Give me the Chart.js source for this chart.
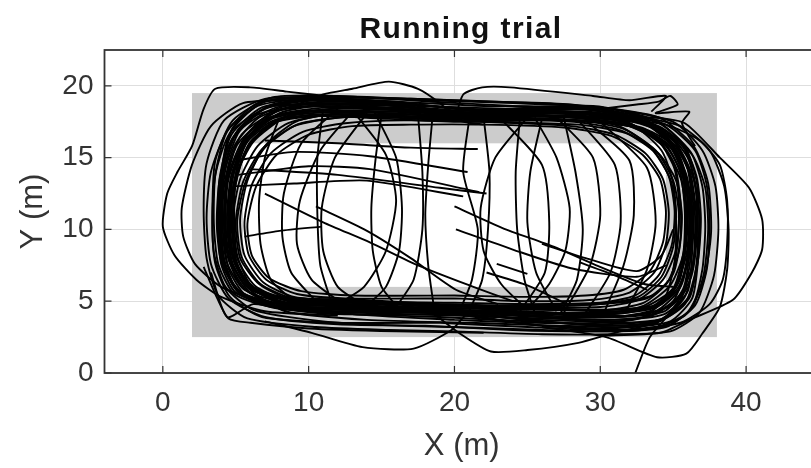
<!DOCTYPE html>
<html>
<head>
<meta charset="utf-8">
<title>Running trial</title>
<script src="https://cdn.jsdelivr.net/npm/chart.js@4.4.1/dist/chart.umd.min.js"></script>
<style>
  html, body { margin: 0; padding: 0; background: #fff; overflow: hidden; }
  #wrap { width: 820px; height: 468px; }
</style>
</head>
<body>
<div id="wrap"><canvas id="trialChart" width="820" height="468"></canvas></div>
<script>
// ================= AXES =================

const xTicks = [0, 10, 20, 30, 40];
const yTicks = [0, 5, 10, 15, 20];
const xRange = [-4, 45];
const yRange = [0, 22.5];

// track area: [xMin, xMax, yMin, yMax] in metres
const trackOuter = [2, 38, 2.5, 19.5];
const trackInner = [5.5, 34.5, 6, 16];

// ================= TRAJECTORY (x, y in metres) =================

// laps on the inside of the track, taking the corners wide
const lapsTight = [
  [[20,4.8],[26,4.6],[30,4.6],[32.6,5.1],[34.3,6.5],[35.2,8.6],[35.4,11],[35,13.4],[33.8,15.5],[31.6,17],[28.5,17.6],[22,17.8],[16,18],[12,17.8],[9,17.2],[6.8,15.6],[5.5,13.3],[5,10.5],[5.3,8],[6.6,6.2],[8.8,5.1],[12,4.8],[20,4.8]],
  [[20,4.4],[26,4.2],[30.5,4.2],[33,4.7],[34.8,6.1],[35.7,8.3],[35.9,11],[35.5,13.6],[34.3,15.8],[32,17.4],[28.8,18.1],[22,18.1],[16,18.5],[11.5,18.4],[8.4,17.8],[6.2,16.1],[5,13.7],[4.5,10.8],[4.8,8],[6,6],[8.3,4.8],[12,4.5],[20,4.4]],
  [[20,5.2],[25,5],[29.5,5.1],[32,5.6],[33.7,7],[34.5,9],[34.7,11.2],[34.3,13.5],[33.1,15.3],[31,16.6],[28,17.2],[22,17.5],[16.5,17.6],[12.5,17.4],[9.6,16.8],[7.4,15.3],[6.1,13.1],[5.6,10.5],[5.9,8.2],[7.1,6.5],[9.2,5.5],[12.5,5.2],[20,5.2]],
  [[20,4.2],[26,3.9],[31,3.9],[33.6,4.4],[35.3,5.9],[36.1,8.1],[36.3,11],[35.9,13.8],[34.7,16.1],[32.4,17.8],[29,18.5],[22,18.3],[16,18.8],[11,18.9],[7.8,18.2],[5.6,16.4],[4.5,13.8],[4.2,10.8],[4.5,7.9],[5.7,5.8],[8,4.6],[12,4.3],[20,4.2]],
  [[20,4.9],[26,4.8],[30,4.9],[32.4,5.4],[34,6.8],[34.9,8.9],[35.1,11.3],[34.7,13.7],[33.5,15.7],[31.3,17.2],[28,17.8],[22,17.6],[16,18.2],[12,18.1],[9.1,17.5],[7,15.8],[5.8,13.4],[5.3,10.7],[5.6,8.2],[6.9,6.3],[9,5.3],[12.5,5],[20,4.9]],
  [[20,4.5],[26,4.4],[30.5,4.4],[33,4.9],[34.6,6.3],[35.4,8.5],[35.6,11],[35.2,13.4],[34,15.3],[31.8,16.7],[28.5,17.3],[22,17.5],[16,17.9],[11.5,18],[8.6,17.4],[6.5,15.8],[5.3,13.5],[4.8,10.7],[5.1,8],[6.3,6.1],[8.6,5],[12,4.7],[20,4.5]],
  [[20,5.4],[25,5.3],[29,5.4],[31.6,5.8],[33.4,7.1],[34.3,9.1],[34.5,11.3],[34.1,13.5],[32.9,15.2],[30.8,16.5],[27.5,17.1],[22,17.3],[17,17.3],[13,17.2],[10,16.6],[7.8,15.2],[6.4,13],[5.8,10.4],[6.1,8.2],[7.3,6.6],[9.5,5.7],[13,5.4],[20,5.4]],
  [[20,4.3],[26,4.1],[31,4.1],[33.5,4.6],[35.1,6],[35.9,8.2],[36.1,11],[35.7,13.6],[34.5,15.8],[32.2,17.3],[29,17.9],[22,17.9],[16,18.3],[11.5,18.4],[8.3,17.8],[6,16.1],[5,13.6],[4.6,10.7],[4.9,7.9],[6.1,5.9],[8.4,4.7],[12,4.4],[20,4.3]],
  [[20,4.7],[25.5,4.7],[30,4.8],[32.6,5.3],[34.2,6.7],[35,8.8],[35.2,11.1],[34.8,13.5],[33.6,15.5],[31.4,16.9],[28.2,17.5],[22,17.7],[16.5,17.9],[12.2,17.8],[9.2,17.3],[7,15.7],[5.7,13.4],[5.1,10.6],[5.4,8.1],[6.7,6.2],[8.9,5.2],[12.5,4.9],[20,4.7]],
  [[20,4.1],[26,3.7],[31,3.6],[33.8,4.1],[35.6,5.6],[36.4,7.9],[36.6,10.8],[36.2,13.7],[35,16],[32.7,17.7],[29.3,18.4],[22,18.2],[16,18.6],[11.3,18.7],[8,18.1],[5.8,16.3],[4.7,13.8],[4.4,10.8],[4.7,7.8],[5.9,5.7],[8.2,4.5],[12,4.1],[20,4.1]]
];

// laps that narrow in around the halfway line at x = 20
const lapsPinched = [
  [[20,4.4],[25,4.3],[30,4.1],[33.6,4.5],[35.2,6],[35.8,8.6],[35.9,11.4],[35.6,14],[34.6,16],[32,17.3],[27,17.9],[20,17.9],[14,18.6],[9.5,18.7],[6.6,17.8],[4.9,15.8],[4.2,13],[4.1,10.3],[4.4,7.7],[5.6,5.8],[8.4,4.9],[14,4.8],[20,4.4]],
  [[20,4.2],[26,3.6],[31,3.3],[34.2,3.7],[35.8,5.3],[36.4,7.9],[36.5,10.9],[36.2,13.8],[35.2,16],[33,17.5],[28.5,18.4],[20.5,17.9],[15,18.9],[10,19.2],[6.5,18.8],[4.4,16.8],[3.6,13.8],[3.5,10.4],[3.8,7.6],[4.9,5.5],[7.5,4.6],[13.5,4.6],[20,4.2]],
  [[20,4.5],[26,4.5],[31,4.4],[34,4.8],[35.4,6.4],[35.9,9],[36,11.8],[35.7,14.3],[34.7,16.3],[32.5,17.6],[27.5,18.2],[20,17.7],[14.5,18],[9.8,18.2],[6.9,17.5],[5.3,15.5],[4.6,12.8],[4.5,10],[4.8,7.6],[6,5.8],[8.8,5.1],[14,4.9],[20,4.5]],
  [[19.5,4.3],[25,3.4],[30,3.1],[33.6,3.4],[35.4,4.8],[36.1,7.3],[36.3,10.2],[36,13.2],[35,15.5],[32.8,17.1],[28,17.8],[20,18.1],[15,18.7],[10.8,19],[7.3,18.6],[5,16.7],[4.1,13.7],[3.9,10.6],[4.1,7.8],[5.2,5.7],[7.8,4.8],[13,4.7],[19.5,4.3]],
  [[20,4.6],[26,4.8],[30.5,4.9],[33.6,5.4],[35,6.9],[35.5,9.4],[35.5,12],[35.1,14.5],[34,16.2],[31.6,17.3],[26.5,17.7],[20.5,17.7],[15,17.9],[10.2,18],[7.3,17.3],[5.6,15.3],[4.9,12.6],[4.8,9.9],[5.1,7.5],[6.3,5.7],[9,5],[14.5,4.9],[20,4.6]],
  [[20,4.3],[25,4.0],[29.5,3.7],[33,3.9],[35,5],[35.9,7.5],[36.2,10.3],[36,13.2],[35.3,15.4],[33.5,17.2],[29,18.2],[21,18.1],[16.5,18.4],[12,18.6],[8,18.3],[5.4,16.6],[4.4,13.8],[4.3,10.9],[4.5,8.1],[5.4,6],[7.6,4.9],[13,4.6],[20,4.3]],
  [[20,4.4],[26,3.9],[31,3.5],[34.4,3.8],[36.1,5.2],[36.6,7.6],[36.7,10.5],[36.5,13.3],[35.7,15.7],[33.5,17.3],[29,18],[21,17.6],[15.5,17.8],[11,18],[7.6,17.6],[5.5,15.9],[4.7,13.1],[4.6,10.2],[4.9,7.7],[6,5.9],[8.6,4.9],[14,4.7],[20,4.4]],
  [[19,4.8],[24,4.6],[29,4.4],[33,4.6],[35,5.9],[35.7,8.4],[35.8,11.2],[35.5,13.9],[34.5,15.9],[32.4,17.1],[28,17.6],[21,17.8],[16,18.3],[11.5,18.5],[8,18],[5.8,16.3],[4.8,13.6],[4.6,10.7],[4.8,8.1],[5.8,6.2],[8.2,5.3],[13.5,5.1],[19,4.8]],
  [[20,4.1],[26,3.3],[31,3],[34.6,3.3],[36.5,4.7],[37.3,7.2],[37.5,10.2],[37.3,13.1],[36.5,15.5],[34.5,17.3],[30,18.5],[21,18.3],[16,18.9],[11,19.1],[7.5,18.7],[5.2,17],[4.2,14.2],[4,11],[4.2,8],[5.1,5.8],[7.6,4.6],[13,4.4],[20,4.1]],
  [[20,4.5],[25.5,4.6],[30,4.8],[33.2,5.2],[34.8,6.6],[35.3,9],[35.4,11.8],[35.1,14.2],[34.1,16],[32,17.2],[27,17.6],[20.5,17.5],[15.5,17.7],[10.8,17.9],[7.8,17.5],[5.9,15.9],[5,13.2],[4.8,10.4],[5,7.9],[6.1,6],[8.7,5.1],[14,5],[20,4.5]],
  [[20,4.2],[26,4.2],[30.5,4.2],[33.8,4.6],[35.5,6],[36.1,8.5],[36.3,11.4],[36,14.2],[35,16.2],[32.8,17.4],[28,17.9],[20,18.2],[14.5,18.8],[10,19],[6.8,18.5],[4.7,16.6],[3.9,13.6],[3.8,10.5],[4,7.6],[5,5.6],[7.7,4.6],[13,4.5],[20,4.2]],
  [[20,4.4],[25,3.7],[30,3.3],[33.8,3.5],[35.8,4.8],[36.6,7.4],[36.8,10.4],[36.6,13.4],[35.8,15.8],[33.8,17.6],[29.5,18.6],[21.5,18.3],[16,18.2],[11,18.3],[7.3,17.8],[5.1,15.9],[4.3,13],[4.2,10],[4.5,7.3],[5.7,5.4],[8.3,4.6],[14,4.6],[20,4.4]],
  [[21,4.6],[27,4.4],[31.5,4.3],[34.2,4.8],[35.4,6.4],[35.8,8.8],[35.9,11.5],[35.6,14.1],[34.8,16.1],[33,17.5],[29,18.2],[20.5,17.9],[15,18.1],[10.5,18.3],[7.6,17.9],[5.6,16.2],[4.5,13.5],[4.3,10.5],[4.6,7.9],[5.7,6.1],[8,5.2],[14,5],[21,4.6]],
  [[20,4.3],[26,4.0],[31,3.9],[34.4,4.3],[35.7,5.9],[36.1,8.2],[36.1,11],[35.8,13.7],[34.9,15.9],[32.9,17.4],[28.5,18.1],[21,18],[16.5,18.6],[11.5,18.8],[7.8,18.5],[5.3,16.9],[4.3,14.2],[4,11],[4.1,8.2],[4.9,6],[7,4.8],[13,4.5],[20,4.3]]
];

// laps run wider, nearer the edge of the track
const lapsWide = [
  [[19,3.9],[25,3.6],[30,3.4],[34,3.7],[36,5.2],[36.7,7.8],[36.9,10.8],[36.6,13.7],[35.6,16],[33,17.6],[28,18.2],[22,18.3],[16,18.8],[10.5,19],[7,18.4],[4.8,16.4],[3.9,13.5],[3.7,10.4],[4,7.8],[5.2,5.6],[8,4.5],[13,4.1],[19,3.9]],
  [[18,3.3],[24,3],[29,2.9],[33,3],[35.8,4],[37.1,6.5],[37.6,9.8],[37.4,13.2],[36.4,15.8],[34,17.8],[29,18.6],[23,18.9],[17,19.1],[11,19.3],[7,18.9],[4.5,17],[3.3,14],[3,10.8],[3.3,7.6],[4.5,5.2],[7,3.9],[12,3.4],[18,3.3]],
  [[20,3.2],[26,3.0],[31,2.9],[34.5,3.2],[36.3,4.6],[37,7.2],[37.2,10.2],[37,13],[36.2,15.4],[34,17.4],[29.5,18.3],[24,18.6],[18.5,18.9],[12,19.3],[7.5,19.2],[4.8,17.6],[3.6,14.8],[3.4,11.5],[3.5,8.4],[4.3,6],[6.2,4.4],[11,3.6],[16,3.3],[20,3.2]],
  [[21,4.2],[27,4.1],[32,4.0],[34.9,4.7],[36.2,6.6],[36.6,9.2],[36.6,12.3],[36.1,14.8],[34.8,16.5],[32.2,17.5],[27,17.9],[21.5,18],[16,18.4],[10,18.6],[6.5,18],[4.6,16],[3.9,13.2],[3.8,10],[4.2,7.3],[5.4,5.6],[7.8,4.9],[14,4.6],[21,4.2]],
  [[20,3.7],[25.5,3.5],[30,3.5],[33,3.9],[34.5,5.4],[35.1,7.8],[35.2,10.6],[35,13.2],[34.2,15.5],[32,17.4],[27.5,18.2],[22.5,18.3],[17,18.7],[11,18.9],[7.8,18.4],[5.7,16.5],[5,13.8],[4.9,10.8],[5.1,8.2],[6,6.2],[8.3,4.8],[13,4.1],[20,3.7]],
  [[20,2.9],[26,2.7],[31,2.7],[34.8,2.9],[36.8,4.2],[37.8,6.8],[38.1,10],[37.9,13],[37,15.5],[35,17.5],[30,18.5],[24,18.8],[18,19],[12,19.2],[7,19.1],[4.2,17.6],[3,14.6],[2.8,11.3],[3,8],[3.8,5.4],[5.8,3.8],[10.5,3.2],[15.5,3],[20,2.9]],
  [[19,4.4],[25,4.2],[30.5,3.9],[33.8,4.3],[35.4,5.8],[36,8.3],[36.1,11],[35.8,13.6],[34.9,15.8],[32.8,17.6],[28,18.5],[22,18.6],[16,18.9],[10,19.1],[6.5,18.6],[4.6,16.7],[4,13.8],[3.9,10.8],[4.1,8],[5,5.9],[7.6,4.7],[13,4.5],[19,4.4]],
  [[21,3.5],[27,3.3],[31.5,3.2],[34.8,3.6],[36.3,5.2],[36.7,7.8],[36.8,10.7],[36.4,13.5],[35.4,15.6],[33,17],[28.5,17.6],[23,17.8],[17.5,18],[12,18.2],[8.2,17.8],[5.8,16.1],[4.9,13.4],[4.7,10.5],[5,7.9],[6,5.8],[8.4,4.3],[14,3.7],[21,3.5]],
  [[19,3.5],[25,3.2],[30,3],[34,3.2],[36.2,4.4],[37.1,6.9],[37.4,10],[37.2,12.9],[36.3,15.2],[34,17.2],[29.2,18.1],[23.5,18.4],[17.5,18.6],[11.5,18.8],[7.2,18.5],[4.6,16.7],[3.6,13.8],[3.4,10.6],[3.6,7.6],[4.6,5.3],[6.8,3.9],[12,3.5],[19,3.5]],
  [[20,4],[26,3.8],[31,3.7],[34.4,4.1],[36,5.7],[36.3,8.4],[36.4,11.2],[36.1,13.9],[35.1,16.1],[32.8,17.8],[28,18.7],[22.5,18.9],[17,19.1],[11,19.2],[7,18.9],[4.8,17.1],[4.1,14],[4,10.8],[4.2,7.8],[5.2,5.6],[7.8,4.5],[13.5,4.2],[20,4]]
];

// short cuts straight across the middle, top side to bottom side
const crossings = [
  [[13,18.2],[10.8,15.5],[9.4,12],[9.2,9],[10.2,6.5],[12.5,4.7]],
  [[14,18.1],[11.8,15],[10.9,11.5],[11,8.5],[12,6],[14,4.6]],
  [[12,18.4],[9.5,16],[8.3,12.5],[8.2,9.5],[8.8,7],[10.5,5]],
  [[15,18],[14.6,15],[14.3,11.5],[14.4,8.5],[15,6],[16,4.7]],
  [[14.5,18.2],[16,15],[16.4,11.5],[16.2,8.5],[15.3,6],[14,4.7]],
  [[13,18.3],[15.3,15.2],[16,12],[15.3,8.5],[13.8,6],[12,4.8]],
  [[18.5,17.9],[18.2,14.5],[18,11],[18.2,7.5],[18.6,4.5]],
  [[8,17.8],[7,15],[6.6,12],[6.7,9],[7.4,6.5],[9,5]],
  [[17.5,18],[17.8,14],[17.8,10],[17.2,6.5],[16,4.6]],
  [[11,18.4],[10.6,15],[10.6,11],[10.8,7.5],[11.6,4.8]],
  [[25,17.8],[22.8,15],[21.8,11.5],[22,8.5],[23.2,6.2],[25,4.4]],
  [[25.5,17.8],[27,15],[27.9,11.5],[27.6,8.5],[26.5,6.2],[25,4.4]],
  [[24.5,17.9],[24.2,14],[24.3,10],[24.8,6.5],[25.5,4.2]],
  [[26,17.7],[25.2,14],[25,10.5],[25.6,7],[27,4.3]],
  [[22,17.8],[22.4,14],[22.3,10],[21.9,6.5],[21,4.3]],
  [[27,17.8],[29.5,15],[30,11],[29.3,7.5],[27.5,4.2]],
  [[28.5,17.6],[31,14.5],[31.4,10.5],[30.7,7],[29,4.2]],
  [[29,17.6],[32,14.8],[32.3,11],[31.6,7.5],[30.3,4.3]],
  [[30,17.5],[33.2,14.3],[33.8,10.5],[33.2,7.2],[31.8,4.4]],
  [[23,17.9],[26,14.5],[26.5,10.5],[26.2,7],[24.5,4.3]],
  [[21,17.6],[20.6,14],[21.6,10],[21.2,6.5],[20.3,4.2]],
  [[27.5,17.8],[28.3,14],[28.8,10],[28.4,6.5],[27.3,4.2]]
];

// slanted pieces through the middle, some cut off where tracking dropped
const diagonals = [
  [[5,14.8],[9,15.4],[14.2,15.1],[20.9,14.0]],
  [[5.2,13.8],[10,14.4],[14.2,14.2],[21.7,12.6]],
  [[4.8,13],[9,13.2],[14,13.4],[20.6,12.3]],
  [[6,14.2],[12,13.8],[19,12.9],[22.2,12.5]],
  [[7,16.2],[12,16],[17,15.7],[21.6,15.6]],
  [[10.5,11.6],[14,9.9],[17,8],[20.1,5.8],[23,4.8]],
  [[20,11.6],[23.3,10.1],[26.8,8.8],[29.5,7.6],[33,6.2],[35,6]],
  [[20.1,10],[24,8.6],[28,7.3],[32.5,6.7],[34.5,7.5]],
  [[22.9,7.6],[25,6.9]],
  [[22.2,7],[25,6.1],[27.7,4.8]],
  [[28.6,7.7],[31,6.8],[33.2,5.8]],
  [[5.6,9.5],[8,9.9],[10.9,10.2]],
  [[7,12.5],[11,10.5],[14.2,9.1],[17.5,7.5],[21.3,6],[24,5]],
  [[26,9],[29,8],[32.5,7.1],[34.2,8.2],[35,10]]
];

// runs that swing outside the marked track
const excursions = [
  [[30,17.6],[33.5,17.8],[35.8,17.4],[38.2,15],[40.2,12.9],[41.1,10.7],[41.1,8.6],[40.4,7],[39.1,5.1],[36.1,3.7],[34.1,2.8],[30,2.6]],
  [[31,17.7],[34.5,17.3],[36.8,16.2],[38.2,14.5],[38.7,12],[38.7,9],[38.4,6.5],[37.5,4.8],[35.5,3.5],[32,3]],
  [[26,3.2],[30.4,2.5],[33.9,1.1],[35.9,1.35],[37,2.75],[38.2,4.6],[38.7,7.2],[38.8,10],[38.5,13],[37.5,15.5],[35.5,17.2],[32,18]],
  [[7,3.6],[10.2,2.8],[13.7,1.8],[17.2,1.7],[19.8,3],[21,4.2],[24,4.6]],
  [[18.5,4.2],[20.3,2.8],[22.5,1.5],[25,1.6],[28.5,2.1],[31,2.8],[34,3.5]],
  [[36,6],[34.8,4.2],[33.4,2.5],[32.4,0],[32.2,-0.5]],
  [[12,19.2],[8.5,19.6],[6,19.9],[3.6,19.8],[2.8,18.4],[2.0,15.8],[1.0,14],[0.3,12.5],[0,10.2],[0.8,8.2],[2.3,6.5],[4,5.3],[7,4.3],[12,4]],
  [[9,19],[5.5,18.8],[3.3,17.2],[2,14.5],[1.3,11.5],[1.4,9.5],[2.2,7.6],[4,6],[6.5,5]],
  [[2.8,7.4],[3.6,5.5],[4.5,3.8],[6,3.5],[10,3.1],[16,2.9],[22,2.8]],
  [[3.3,7],[4.4,3.9],[6.2,4.8],[8.5,4.4]],
  [[9,18.6],[11,19.4],[13,19.8],[15.5,20.3],[17.5,19.8],[19,18.8],[20.3,17.6],[22,17.3]],
  [[20,17.5],[20.6,19.4],[21.9,19.9],[23.8,19.9],[29.5,19.3],[32,19],[34.5,19.3],[33.5,18.2]],
  [[30,18.4],[32.5,18.7],[34,18.9],[34.8,19.3],[35.3,18.7],[33.8,18.1],[36.1,18.2],[35.6,17.4],[36.5,15.8]]
];

// ================= PLUGINS =================

const axisInk = "#333333";

// grey track band, drawn over the grid and under the runner's path
const trackPatch = {
  id: "trackPatch",
  beforeDatasetsDraw(chart){
    const {ctx, scales: {x, y}} = chart;
    const rect = (r, color) => {
      const x0 = x.getPixelForValue(r[0]);
      const x1 = x.getPixelForValue(r[1]);
      const y0 = y.getPixelForValue(r[3]);
      const y1 = y.getPixelForValue(r[2]);
      ctx.fillStyle = color;
      ctx.fillRect(x0, y0, x1 - x0, y1 - y0);
    };
    ctx.save();
    rect(trackOuter, "#cccccc");
    rect(trackInner, "#ffffff");
    ctx.restore();
  }
};

// closed box with inward tick marks
const boxAxes = {
  id: "boxAxes",
  afterDatasetsDraw(chart){
    const {ctx, chartArea: a, scales: {x, y}} = chart;
    const tick = 7;
    ctx.save();
    ctx.strokeStyle = axisInk;
    ctx.lineWidth = 1.8;
    ctx.strokeRect(a.left, a.top, a.right - a.left, a.bottom - a.top);
    ctx.lineWidth = 1.2;
    ctx.beginPath();
    xTicks.forEach(v => {
      const px = x.getPixelForValue(v);
      ctx.moveTo(px, a.bottom); ctx.lineTo(px, a.bottom - tick);
      ctx.moveTo(px, a.top); ctx.lineTo(px, a.top + tick);
    });
    yTicks.forEach(v => {
      const py = y.getPixelForValue(v);
      ctx.moveTo(a.left, py); ctx.lineTo(a.left + tick, py);
      ctx.moveTo(a.right, py); ctx.lineTo(a.right - tick, py);
    });
    ctx.stroke();
    ctx.restore();
  }
};

const plotTitle = {
  id: "plotTitle",
  afterDraw(chart){
    const ctx = chart.ctx;
    ctx.save();
    ctx.font = "bold 30px 'Liberation Sans', Arial, sans-serif";
    ctx.letterSpacing = "1.4px";
    ctx.fillStyle = "#111";
    ctx.textAlign = "center";
    ctx.textBaseline = "alphabetic";
    ctx.fillText("Running trial", 461, 38);
    ctx.restore();
  }
};

// ================= CHART =================

const allPaths = [...lapsTight, ...lapsPinched, ...lapsWide, ...crossings, ...diagonals, ...excursions];

const datasets = allPaths.map(path => ({
  data: path.map(([px, py]) => ({x: px, y: py})),
  showLine: true,
  borderColor: "#000000",
  borderWidth: 1.9,
  pointRadius: 0,
  tension: 0.22,
  fill: false
}));

const tickFont = {family: "'Liberation Sans', Arial, sans-serif", size: 28};
const titleFont = {family: "'Liberation Sans', Arial, sans-serif", size: 31};

new Chart(document.getElementById("trialChart"), {
  type: "scatter",
  data: { datasets },
  options: {
    responsive: false,
    animation: false,
    layout: { padding: { top: 50, right: 1, bottom: 0, left: 0 } },
    plugins: {
      legend: { display: false },
      tooltip: { enabled: false }
    },
    scales: {
      x: {
        type: "linear",
        min: xRange[0],
        max: xRange[1],
        afterBuildTicks: scale => { scale.ticks = xTicks.map(v => ({value: v})); },
        afterFit: scale => { scale.height = 95; },
        grid: { color: "#dedede", lineWidth: 1, drawTicks: false },
        border: { display: false },
        ticks: { color: axisInk, font: tickFont, padding: 13, maxRotation: 0 },
        title: { display: true, text: "X (m)", color: axisInk, font: titleFont, padding: { top: 0, bottom: 3 } }
      },
      y: {
        type: "linear",
        min: yRange[0],
        max: yRange[1],
        afterBuildTicks: scale => { scale.ticks = yTicks.map(v => ({value: v})); },
        afterFit: scale => { scale.width = 104.5; },
        grid: { color: "#dedede", lineWidth: 1, drawTicks: false },
        border: { display: false },
        ticks: { color: axisInk, font: tickFont, padding: 11 },
        title: { display: true, text: "Y (m)", color: axisInk, font: titleFont, padding: { top: 15, bottom: 0 } }
      }
    }
  },
  plugins: [trackPatch, boxAxes, plotTitle]
});
</script>
</body>
</html>
